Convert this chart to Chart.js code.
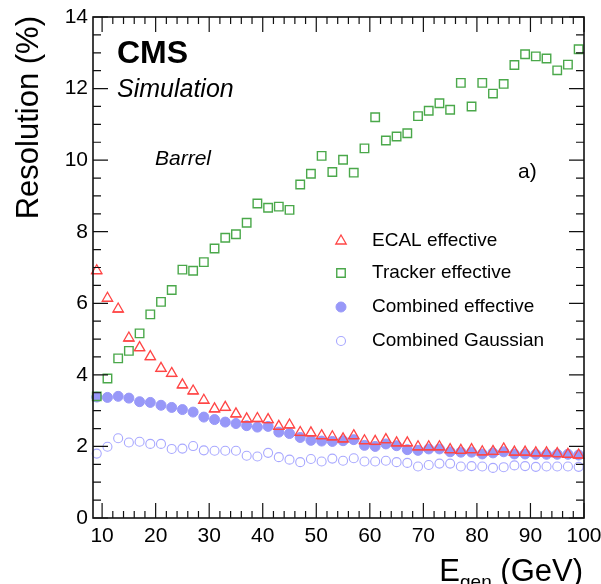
<!DOCTYPE html>
<html>
<head>
<meta charset="utf-8">
<script src="https://cdn.jsdelivr.net/npm/chart.js@4.4.0/dist/chart.umd.min.js"></script>
<style>
  html, body { margin: 0; padding: 0; background: #fff; overflow: hidden; }
  #wrap { width: 601px; height: 584px; position: relative; }
</style>
</head>
<body>
<div id="wrap"><canvas id="myChart"></canvas></div>
<script>
// bin centres (GeV)
const energies = [9, 11, 13, 15, 17, 19, 21, 23, 25, 27, 29, 31, 33, 35, 37, 39, 41, 43, 45, 47,
  49, 51, 53, 55, 57, 59, 61, 63, 65, 67, 69, 71, 73, 75, 77, 79, 81, 83, 85, 87,
  89, 91, 93, 95, 97, 99];

const ecalEff = [6.91, 6.14, 5.84, 5.03, 4.76, 4.51, 4.18, 4.04, 3.72, 3.55, 3.29, 3.05, 3.09, 2.91, 2.77, 2.78, 2.75, 2.56, 2.60, 2.39,
  2.38, 2.30, 2.27, 2.21, 2.30, 2.16, 2.14, 2.19, 2.10, 2.10, 1.99, 1.99, 1.99, 1.91, 1.89, 1.91, 1.85, 1.86, 1.93, 1.84,
  1.84, 1.82, 1.82, 1.80, 1.78, 1.76];

const trackerEff = [3.40, 3.90, 4.46, 4.67, 5.16, 5.69, 6.04, 6.37, 6.94, 6.91, 7.15, 7.53, 7.83, 7.93, 8.25, 8.79, 8.67, 8.70, 8.61, 9.32,
  9.62, 10.12, 9.67, 10.01, 9.65, 10.33, 11.20, 10.55, 10.66, 10.75, 11.23, 11.38, 11.59, 11.41, 12.16, 11.50, 12.16, 11.86, 12.13, 12.66,
  12.96, 12.90, 12.84, 12.51, 12.67, 13.10];

const combinedEff = [3.38, 3.37, 3.40, 3.35, 3.25, 3.23, 3.15, 3.09, 3.03, 2.96, 2.82, 2.75, 2.68, 2.64, 2.58, 2.54, 2.56, 2.40, 2.36, 2.25,
  2.17, 2.15, 2.14, 2.16, 2.19, 2.03, 2.00, 2.07, 2.02, 1.91, 1.89, 1.93, 1.93, 1.85, 1.84, 1.84, 1.79, 1.82, 1.85, 1.79,
  1.79, 1.78, 1.78, 1.78, 1.78, 1.76];

const combinedGauss = [1.80, 1.99, 2.23, 2.11, 2.13, 2.07, 2.07, 1.93, 1.94, 2.01, 1.89, 1.88, 1.88, 1.88, 1.74, 1.72, 1.82, 1.70, 1.63, 1.56,
  1.65, 1.58, 1.66, 1.60, 1.67, 1.58, 1.58, 1.60, 1.56, 1.54, 1.44, 1.48, 1.52, 1.52, 1.44, 1.45, 1.44, 1.40, 1.42, 1.47,
  1.45, 1.43, 1.44, 1.44, 1.44, 1.43];

const xTickLabels = [10, 20, 30, 40, 50, 60, 70, 80, 90, 100];
const yTickLabels = [0, 2, 4, 6, 8, 10, 12, 14];

const FONT = "'Liberation Sans', Arial, Helvetica, sans-serif";
const RED = '#ff4545';
const GREEN = '#4aa84a';
const BLUE_FILL = '#9898f8';
const BLUE_OPEN = '#a8a8ff';

const toPoints = (vals) => energies.map((e, i) => ({ x: e, y: vals[i] }));

// ROOT style frame with inward ticks + ECAL horizontal bin bars
const framePlugin = {
  id: 'rootFrame',
  afterDatasetsDraw(chart) {
    const { ctx, chartArea: a, scales: { x, y } } = chart;
    ctx.save();

    // bin-width bars under the ECAL triangles
    const ecalMeta = chart.getDatasetMeta(0);
    const r = chart.data.datasets[0].pointRadius;
    ctx.strokeStyle = RED;
    ctx.lineWidth = 1.3;
    ecalMeta.data.forEach((pt, i) => {
      const e = energies[i];
      const py = y.getPixelForValue(ecalEff[i]) + r * 0.5;
      ctx.beginPath();
      ctx.moveTo(x.getPixelForValue(e - 1), py);
      ctx.lineTo(Math.min(x.getPixelForValue(e + 1), a.right), py);
      ctx.stroke();
    });

    // frame
    ctx.strokeStyle = '#111';
    ctx.lineWidth = 1.6;
    ctx.strokeRect(a.left, a.top, a.right - a.left, a.bottom - a.top);

    ctx.lineWidth = 1.2;
    ctx.beginPath();
    // x ticks (bottom & top)
    for (let v = 10; v <= 100; v += 2) {
      const px = x.getPixelForValue(v);
      const len = v % 10 === 0 ? 15 : 7;
      ctx.moveTo(px, a.bottom); ctx.lineTo(px, a.bottom - len);
      ctx.moveTo(px, a.top); ctx.lineTo(px, a.top + len);
    }
    // y ticks (left & right)
    for (let v = 0; v <= 14; v += 0.5) {
      const py = y.getPixelForValue(v);
      const len = v % 2 === 0 ? 15 : 8;
      ctx.moveTo(a.left, py); ctx.lineTo(a.left + len, py);
      ctx.moveTo(a.right, py); ctx.lineTo(a.right - len, py);
    }
    ctx.stroke();
    ctx.restore();
  }
};

// labels, legend and axis titles
const textPlugin = {
  id: 'rootText',
  afterDraw(chart) {
    const { ctx } = chart;
    ctx.save();
    ctx.fillStyle = '#000';
    ctx.textAlign = 'left';
    ctx.textBaseline = 'alphabetic';

    ctx.font = 'bold 32px ' + FONT;
    ctx.fillText('CMS', 117, 63);
    ctx.font = 'italic 25px ' + FONT;
    ctx.fillText('Simulation', 117, 97);
    ctx.font = 'italic 21px ' + FONT;
    ctx.fillText('Barrel', 155, 165);
    ctx.font = '21px ' + FONT;
    ctx.fillText('a)', 518, 178);

    // legend
    const rows = [241, 273, 307, 341];
    chart.data.datasets.forEach((ds, i) => {
      const ly = rows[i];
      ctx.save();
      ctx.strokeStyle = ds.borderColor;
      ctx.fillStyle = ds.backgroundColor;
      ctx.lineWidth = ds.borderWidth;
      Chart.helpers.drawPoint(ctx, { pointStyle: ds.pointStyle, radius: ds.pointRadius, rotation: 0, borderWidth: ds.borderWidth }, 341, ly);
      ctx.restore();
      ctx.font = '19px ' + FONT;
      ctx.textBaseline = 'middle';
      ctx.fillText(ds.label, 372, ly);
    });

    // x title: E_gen (GeV)
    ctx.textBaseline = 'alphabetic';
    const big = '31px ' + FONT, small = '19px ' + FONT;
    ctx.font = big; const wE = ctx.measureText('E').width;
    ctx.font = small; const wSub = ctx.measureText('gen').width;
    ctx.font = big; const wRest = ctx.measureText(' (GeV)').width;
    let tx = 583 - (wE + wSub + wRest);
    const base = 581;
    ctx.font = big; ctx.fillText('E', tx, base); tx += wE;
    ctx.font = small; ctx.fillText('gen', tx, base + 7); tx += wSub;
    ctx.font = big; ctx.fillText(' (GeV)', tx, base);

    // y title
    ctx.translate(38, 16);
    ctx.rotate(-Math.PI / 2);
    ctx.textAlign = 'right';
    ctx.font = big;
    ctx.fillText('Resolution (%)', 0, 0);
    ctx.restore();
  }
};

const ctx = document.getElementById('myChart');
const myChart = new Chart(ctx, {
  type: 'scatter',
  data: {
    datasets: [
      { label: 'ECAL effective', data: toPoints(ecalEff), pointStyle: 'triangle', pointRadius: 6,
        borderColor: RED, backgroundColor: 'rgba(0,0,0,0)', borderWidth: 1.3, clip: false },
      { label: 'Tracker effective', data: toPoints(trackerEff), pointStyle: 'rect', pointRadius: 6,
        borderColor: GREEN, backgroundColor: 'rgba(0,0,0,0)', borderWidth: 1.4, clip: false },
      { label: 'Combined effective', data: toPoints(combinedEff), pointStyle: 'circle', pointRadius: 5,
        borderColor: BLUE_FILL, backgroundColor: BLUE_FILL, borderWidth: 1, clip: false },
      { label: 'Combined Gaussian', data: toPoints(combinedGauss), pointStyle: 'circle', pointRadius: 4.5,
        borderColor: BLUE_OPEN, backgroundColor: 'rgba(0,0,0,0)', borderWidth: 1.1, clip: false }
    ]
  },
  options: {
    responsive: true,
    maintainAspectRatio: false,
    animation: false,
    events: [],
    layout: { padding: { top: 17, right: 17, left: 0, bottom: 0 } },
    plugins: { legend: { display: false }, tooltip: { enabled: false } },
    scales: {
      x: {
        type: 'linear', min: 8.3, max: 100,
        grid: { display: false, drawTicks: false },
        border: { display: false },
        ticks: { font: { family: FONT, size: 21 }, color: '#000', padding: 6, maxRotation: 0, autoSkip: false },
        afterBuildTicks: (s) => { s.ticks = xTickLabels.map(v => ({ value: v })); },
        afterFit: (s) => { s.height = 66; s.paddingLeft = 0; s.paddingRight = 0; }
      },
      y: {
        type: 'linear', min: 0, max: 14,
        grid: { display: false, drawTicks: false },
        border: { display: false },
        ticks: { font: { family: FONT, size: 21 }, color: '#000', padding: 5, autoSkip: false },
        afterBuildTicks: (s) => { s.ticks = yTickLabels.map(v => ({ value: v })); },
        afterFit: (s) => { s.width = 93; s.paddingTop = 0; s.paddingBottom = 0; }
      }
    }
  },
  plugins: [framePlugin, textPlugin]
});
</script>
</body>
</html>
